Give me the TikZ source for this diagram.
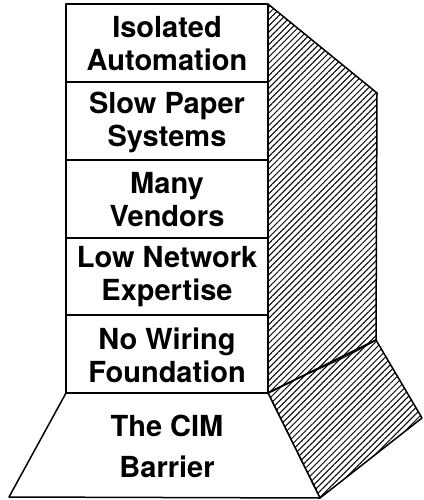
\documentclass[tikz,border=0pt]{standalone}
\usepackage{fontspec}
\setmainfont{TeX Gyre Heros}
\usetikzlibrary{patterns.meta}

\begin{document}
\begin{tikzpicture}[x=1pt,y=-1pt,line join=round,
  every node/.style={font=\bfseries\fontsize{29}{33}\selectfont,align=center},
  edge/.style={line width=1.5pt},
  hatch/.style={pattern={Lines[angle=45,distance=4.4pt,line width=1pt]}}]
\useasboundingbox (0,0) rectangle (423,500);
% column corners
\coordinate (c0) at (66,4);
\coordinate (c1) at (268,4);
\coordinate (s0) at (377,93);
\coordinate (s1) at (376,340);
\coordinate (s2) at (422,418);
\coordinate (b0) at (66,393);
\coordinate (b1) at (268,393);
\coordinate (f0) at (9,497);
\coordinate (f1) at (320,498);
% shaded side
\draw[edge,hatch] (c1)--(s0)--(s1)--(b1)--cycle;
\draw[edge,hatch] (b1)--(s1)--(s2)--(f1)--cycle;
\draw[line width=.9pt] (b1) .. controls (300,375) and (335,365) .. (s1);
% front boxes
\foreach \ya/\yb in {4/82,82/160,160/238,238/315,315/393}
  \draw[edge,fill=white] (66,\ya) rectangle (268,\yb);
\draw[edge,fill=white] (b0)--(f0)--(f1)--(b1)--cycle;
% labels
\node (l1) at (167,43.5) {Isolated\\Automation};
\node (l2) at (167,122) {Slow Paper\\Systems};
\node (l3) at (167,200) {Many\\Vendors};
\node (l4) at (167,277) {Low Network\\Expertise};
\node (l5) at (167,355) {No Wiring\\Foundation};
\node[font=\bfseries\fontsize{29}{41}\selectfont] (l6) at (167,446) {The CIM\\Barrier};
\end{tikzpicture}
\end{document}
